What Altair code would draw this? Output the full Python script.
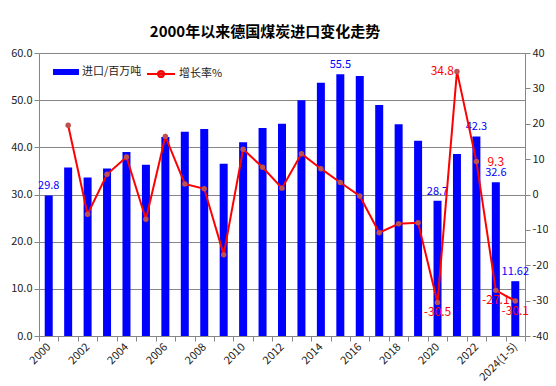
import altair as alt
import pandas as pd

years = ["2000", "2001", "2002", "2003", "2004", "2005", "2006", "2007", "2008",
         "2009", "2010", "2011", "2012", "2013", "2014", "2015", "2016", "2017",
         "2018", "2019", "2020", "2021", "2022", "2023", "2024(1-5)"]
imports = [29.8, 35.7, 33.6, 35.5, 39.0, 36.3, 42.2, 43.3, 43.9, 36.5, 41.1, 44.1,
           45.0, 50.0, 53.7, 55.5, 55.1, 49.0, 44.9, 41.4, 28.7, 38.6, 42.3, 32.6, 11.62]
growth = [None, 19.6, -5.6, 5.7, 10.6, -7.0, 16.4, 3.0, 1.6, -17.0, 12.8, 7.7,
          1.8, 11.5, 7.3, 3.4, -0.4, -10.8, -8.3, -8.0, -30.5, 34.8, 9.3, -27.1, -30.1]
bar_label_years = ["2000", "2015", "2020", "2022", "2023", "2024(1-5)"]
growth_label_pos = {"2020": "below", "2021": "left", "2022": "right",
                    "2023": "below", "2024(1-5)": "below"}

BAR_NAME = "进口/百万吨"
LINE_NAME = "增长率%"
FONT = "Noto Sans CJK SC"

df = pd.DataFrame({"year": years, "imp": imports, "g": growth})
df["bar_lbl"] = df["year"].isin(bar_label_years)
df["g_pos"] = df["year"].map(growth_label_pos).fillna("")
df["s_bar"] = BAR_NAME
df["s_line"] = LINE_NAME

base = alt.Chart(df)

x = alt.X(
    "year:N", sort=years, title=None,
    scale=alt.Scale(paddingInner=0, paddingOuter=0),
    axis=alt.Axis(
        labelAngle=-45, labelAlign="right", labelBaseline="middle",
        labelExpr="parseInt(datum.value) % 2 == 0 ? datum.label : ''",
        labelOverlap=False, tickBand="extent", tickSize=5, labelPadding=4,
        domainColor="#868686", tickColor="#868686", labelColor="#222222",
        labelFont=FONT, labelFontSize=11, grid=False,
    ),
)

y_left = alt.Y(
    "imp:Q", title=None,
    scale=alt.Scale(domain=[0, 60]),
    axis=alt.Axis(
        orient="left", values=[0, 10, 20, 30, 40, 50, 60], format=".1f",
        grid=True, gridColor="#868686", domainColor="#868686", tickColor="#868686",
        tickSize=5, labelColor="#222222", labelFont=FONT, labelFontSize=11,
    ),
)

y_right = alt.Y(
    "g:Q", title=None,
    scale=alt.Scale(domain=[-40, 40]),
    axis=alt.Axis(
        orient="right", values=list(range(-40, 41, 10)), grid=False,
        labelExpr="toString(datum.value)", labelPadding=2,
        domainColor="#868686", tickColor="#868686", tickSize=5,
        labelColor="#222222", labelFont=FONT, labelFontSize=11,
    ),
)

bars = base.mark_bar(size=8).encode(
    x=x, y=y_left,
    color=alt.Color(
        "s_bar:N",
        scale=alt.Scale(domain=[BAR_NAME], range=["#0000ff"]),
        legend=alt.Legend(
            title=None, orient="none", legendX=14, legendY=6,
            symbolType="M-1,-0.23H1V0.23H-1Z", symbolSize=676, symbolStrokeWidth=0,
            labelFont=FONT, labelFontSize=11, labelColor="#222222", labelOffset=3,
        ),
    ),
)

bar_labels = base.mark_text(
    baseline="bottom", dy=-4, color="#0000ff", font=FONT, fontSize=11
).encode(x=x, y=y_left, text=alt.Text("imp:N")).transform_filter("datum.bar_lbl")

left = alt.layer(bars, bar_labels)

valid = "isValid(datum.g)"

line = base.mark_line(strokeWidth=2).encode(
    x=x, y=y_right,
    color=alt.Color(
        "s_line:N",
        scale=alt.Scale(domain=[LINE_NAME], range=["#ff0000"]),
        legend=alt.Legend(
            title=None, orient="none", legendX=107, legendY=6,
            symbolType="M-1,0H1M0.22,0A0.22,0.22,0,1,1,-0.22,0A0.22,0.22,0,1,1,0.22,0Z",
            symbolSize=784, symbolStrokeWidth=2, symbolFillColor="#c0504d",
            labelFont=FONT, labelFontSize=11, labelColor="#222222", labelOffset=3,
        ),
    ),
).transform_filter(valid)

points = base.mark_point(filled=True, size=30, color="#c0504d", opacity=1).encode(
    x=x, y=y_right
).transform_filter(valid)

lbl_below = base.mark_text(
    baseline="top", dy=5, color="#ff0000", font=FONT, fontSize=12
).encode(x=x, y=y_right, text=alt.Text("g:N")).transform_filter("datum.g_pos == 'below'")

lbl_left = base.mark_text(
    align="right", baseline="middle", dx=-3, color="#ff0000", font=FONT, fontSize=12
).encode(x=x, y=y_right, text=alt.Text("g:N")).transform_filter("datum.g_pos == 'left'")

lbl_right = base.mark_text(
    align="left", baseline="middle", dx=11, color="#ff0000", font=FONT, fontSize=12
).encode(x=x, y=y_right, text=alt.Text("g:N")).transform_filter("datum.g_pos == 'right'")

right = alt.layer(line, points, lbl_below, lbl_left, lbl_right)

chart = alt.layer(left, right).resolve_scale(
    y="independent", color="independent"
).resolve_legend(color="independent").properties(
    width=486, height=283,
    title=alt.TitleParams(
        "2000年以来德国煤炭进口变化走势", font=FONT, fontSize=15, fontWeight="bold",
        color="#000000", anchor="middle", offset=7, dx=-17,
    ),
    autosize=alt.AutoSizeParams(type="none"),
    padding={"left": 31, "top": 45, "right": 23, "bottom": 50},
    background="#ffffff",
).configure_view(stroke=None)

chart.save("out.html", embed_options={"renderer": "svg", "actions": False})
